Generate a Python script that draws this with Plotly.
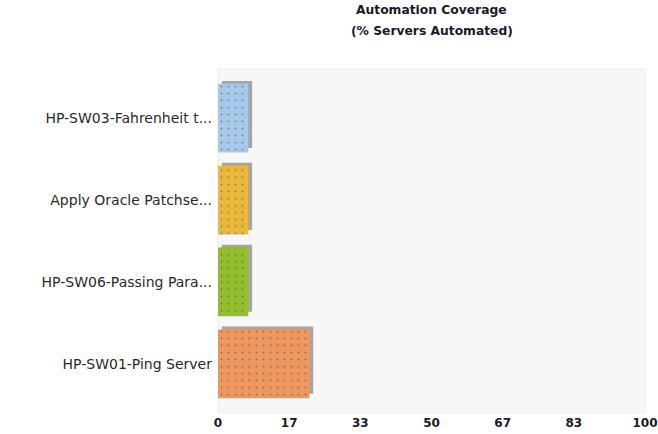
import plotly.graph_objects as go

categories = ["HP-SW03-Fahrenheit t...", "Apply Oracle Patchse...", "HP-SW06-Passing Para...", "HP-SW01-Ping Server"]
values = [7.1, 7.1, 7.1, 21.4]
colors = ["#a8c8ea", "#eab93c", "#93bf2e", "#ee9860"]
dot_colors = ["#b0e8d8", "#d8a050", "#7a9a40", "#b86a60"]
tick_vals = [0, 100/6, 200/6, 50, 400/6, 500/6, 100]
tick_text = ["0", "17", "33", "50", "67", "83", "100"]
title_lines = ["Automation Coverage", "(% Servers Automated)"]

font = "DejaVu Sans"
PLOT_TOP, PLOT_BOTTOM = 69, 413
plot_h = PLOT_BOTTOM - PLOT_TOP

fig = go.Figure()

# shadow
fig.add_trace(go.Bar(
    y=categories, x=values, orientation="h", base=0.9,
    width=0.82, offset=-0.455,
    marker=dict(color="#a6a6a6", line=dict(width=0)),
    hoverinfo="skip", showlegend=False,
))
# bars
fig.add_trace(go.Bar(
    y=categories, x=values, orientation="h",
    width=0.84, offset=-0.42,
    marker=dict(color=colors, line=dict(width=0),
                pattern=dict(shape=".", fgcolor=dot_colors, size=7, solidity=0.06)),
    showlegend=False,
))

annotations = []
for i, (line, ypx) in enumerate(zip(title_lines, [10, 31])):
    annotations.append(dict(
        text="<b>" + line + "</b>", xref="paper", yref="paper",
        x=0.5, y=1 + (PLOT_TOP - ypx) / plot_h, xanchor="center", yanchor="middle",
        showarrow=False, font=dict(family=font, size=12.3, color="#1a1a2a"),
    ))

fig.update_layout(
    width=658, height=434,
    margin=dict(l=218, r=13, t=PLOT_TOP, b=434 - PLOT_BOTTOM),
    paper_bgcolor="white",
    plot_bgcolor="#f7f7f7",
    barmode="overlay",
    annotations=annotations,
    xaxis=dict(
        range=[0, 100], tickvals=tick_vals, ticktext=tick_text,
        showgrid=False, zeroline=False, showline=False, automargin=False,
        tickfont=dict(family=font, size=12, color="#1a1a2a", weight="bold"),
        ticks="", ticklabelstandoff=1,
    ),
    yaxis=dict(
        type="category", categoryorder="array", categoryarray=categories,
        range=[3.6, -0.6], automargin=False,
        showgrid=False, zeroline=False, showline=False,
        tickfont=dict(family=font, size=14, color="#2a2a2a"),
        ticks="", ticklabelstandoff=5,
    ),
    shapes=[dict(type="rect", xref="paper", yref="paper", x0=0, x1=1, y0=0, y1=1,
                 line=dict(color="#ececec", width=1), fillcolor="rgba(0,0,0,0)", layer="below")],
)

fig.write_html("out.html")
